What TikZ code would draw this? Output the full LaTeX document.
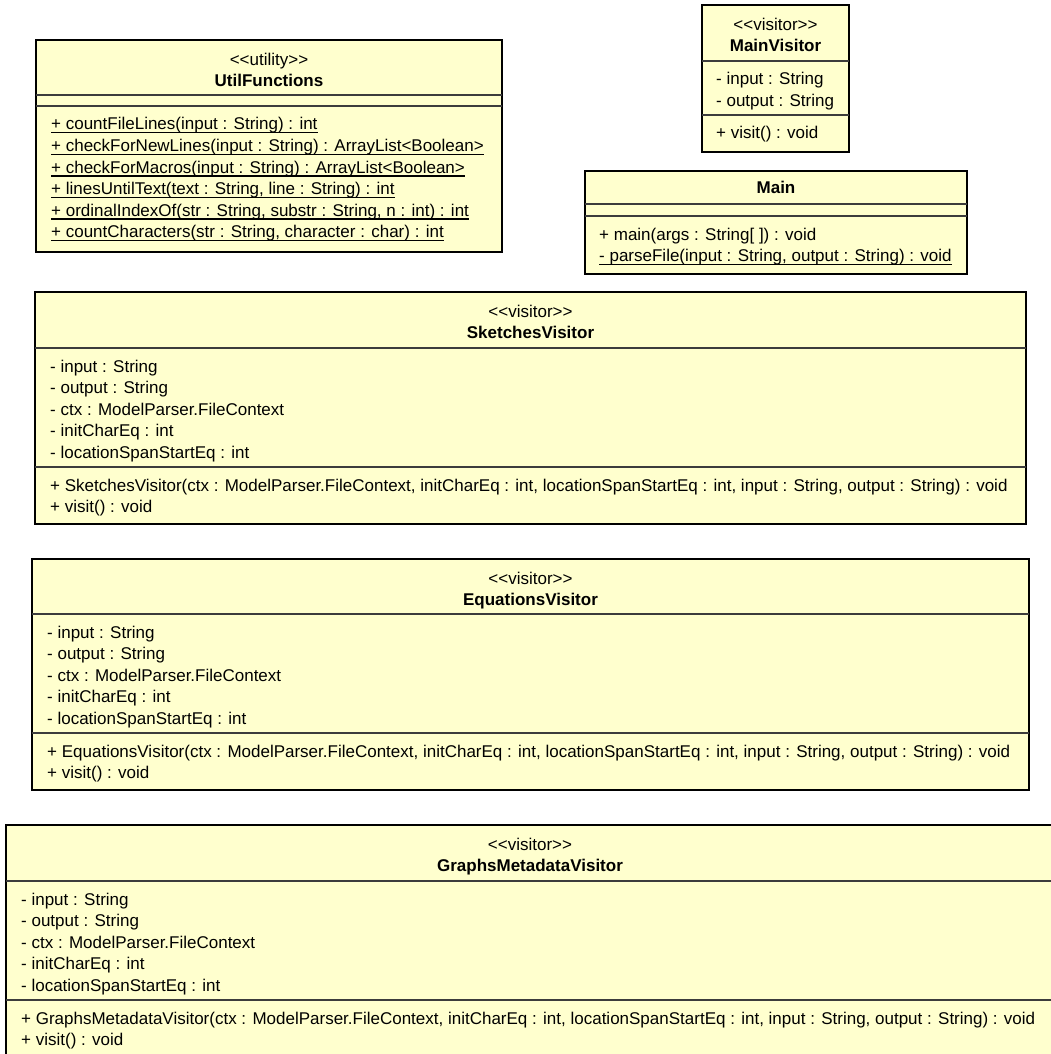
\documentclass[tikz,border=0pt]{standalone}
\usepackage{fontspec}
\setmainfont{Liberation Sans}
\definecolor{classfill}{RGB}{255,255,206}
\definecolor{rulegray}{RGB}{60,60,60}
% underlined (static) member text
\newcommand\staticmember[1]{\setbox0\hbox{#1}\rlap{\copy0}\rule[-3.5pt]{\wd0}{1.1pt}}
% stereotype brackets written as separate characters
\newcommand\stereotype[1]{{<}{<}#1{>}{>}}
\tikzset{
  classbox/.style={rectangle, draw=black, line width=2.2pt, fill=classfill,
    inner sep=0pt, outer sep=0pt, anchor=north west},
  divider/.style={draw=rulegray, line width=1.3pt},
  member/.style={anchor=base west, inner sep=0pt, font=\fontsize{17}{20}\selectfont},
  stereo/.style={anchor=base, inner sep=0pt, font=\fontsize{17}{20}\selectfont},
  classname/.style={anchor=base, inner sep=0pt, font=\fontsize{17}{20}\selectfont\bfseries},
}
\begin{document}
\begin{tikzpicture}[x=1pt, y=-1pt]
\path[use as bounding box] (0,0) rectangle (1051,1054);
\clip (0,0) rectangle (1051,1054);
\fill[white] (0,0) rectangle (1051,1054);

% ---- UtilFunctions ----
\node[classbox, minimum width=466pt, minimum height=212pt] (util) at (36,40) {};
\draw[divider] ([yshift=-55pt]util.north west) -- ([yshift=-55pt]util.north east);
\draw[divider] ([yshift=-66pt]util.north west) -- ([yshift=-66pt]util.north east);
\node[stereo] (util-st) at (269,65.5) {\stereotype{utility}};
\node[classname] (util-nm) at (269,86.5) {UtilFunctions};
\node[member] (util-m1) at (51,130) {\staticmember{+ countFileLines(input : String) : int}};
\node[member] (util-m2) at (51,151.5) {\staticmember{+ checkForNewLines(input : String) : ArrayList<Boolean>}};
\node[member] (util-m3) at (51,173) {\staticmember{+ checkForMacros(input : String) : ArrayList<Boolean>}};
\node[member] (util-m4) at (51,194.5) {\staticmember{+ linesUntilText(text : String, line : String) : int}};
\node[member] (util-m5) at (51,216) {\staticmember{+ ordinalIndexOf(str : String, substr : String, n : int) : int}};
\node[member] (util-m6) at (51,237.5) {\staticmember{+ countCharacters(str : String, character : char) : int}};

% ---- MainVisitor ----
\node[classbox, minimum width=147pt, minimum height=147pt] (mainv) at (702,5) {};
\draw[divider] ([yshift=-56pt]mainv.north west) -- ([yshift=-56pt]mainv.north east);
\draw[divider] ([yshift=-110pt]mainv.north west) -- ([yshift=-110pt]mainv.north east);
\node[stereo] (mainv-st) at (775.5,30.5) {\stereotype{visitor}};
\node[classname] (mainv-nm) at (775.5,51.5) {MainVisitor};
\node[member] (mainv-a1) at (716,85) {- input : String};
\node[member] (mainv-a2) at (716,106.5) {- output : String};
\node[member] (mainv-m1) at (716,139) {+ visit() : void};

% ---- Main ----
\node[classbox, minimum width=382pt, minimum height=103pt] (main) at (585,171) {};
\draw[divider] ([yshift=-33pt]main.north west) -- ([yshift=-33pt]main.north east);
\draw[divider] ([yshift=-45pt]main.north west) -- ([yshift=-45pt]main.north east);
\node[classname] (main-nm) at (776,193.5) {Main};
\node[member] (main-m1) at (599,240) {+ main(args : String[ ]) : void};
\node[member] (main-m2) at (599,261.5) {\staticmember{- parseFile(input : String, output : String) : void}};

% ---- SketchesVisitor ----
\node[classbox, minimum width=991pt, minimum height=232pt] (sketch) at (35,292) {};
\draw[divider] ([yshift=-56pt]sketch.north west) -- ([yshift=-56pt]sketch.north east);
\draw[divider] ([yshift=-175pt]sketch.north west) -- ([yshift=-175pt]sketch.north east);
\node[stereo] (sketch-st) at (530.5,317.5) {\stereotype{visitor}};
\node[classname] (sketch-nm) at (530.5,338.5) {SketchesVisitor};
\node[member] (sketch-a1) at (50,372) {- input : String};
\node[member] (sketch-a2) at (50,393.5) {- output : String};
\node[member] (sketch-a3) at (50,415) {- ctx : ModelParser.FileContext};
\node[member] (sketch-a4) at (50,436.5) {- initCharEq : int};
\node[member] (sketch-a5) at (50,458) {- locationSpanStartEq : int};
\node[member] (sketch-m1) at (50,491) {+ SketchesVisitor(ctx : ModelParser.FileContext, initCharEq : int, locationSpanStartEq : int, input : String, output : String) : void};
\node[member] (sketch-m2) at (50,512.5) {+ visit() : void};

% ---- EquationsVisitor ----
\node[classbox, minimum width=997pt, minimum height=231pt] (equ) at (32,559) {};
\draw[divider] ([yshift=-55pt]equ.north west) -- ([yshift=-55pt]equ.north east);
\draw[divider] ([yshift=-174pt]equ.north west) -- ([yshift=-174pt]equ.north east);
\node[stereo] (equ-st) at (530.5,584.5) {\stereotype{visitor}};
\node[classname] (equ-nm) at (530.5,605.5) {EquationsVisitor};
\node[member] (equ-a1) at (47,638) {- input : String};
\node[member] (equ-a2) at (47,659.5) {- output : String};
\node[member] (equ-a3) at (47,681) {- ctx : ModelParser.FileContext};
\node[member] (equ-a4) at (47,702.5) {- initCharEq : int};
\node[member] (equ-a5) at (47,724) {- locationSpanStartEq : int};
\node[member] (equ-m1) at (47,757) {+ EquationsVisitor(ctx : ModelParser.FileContext, initCharEq : int, locationSpanStartEq : int, input : String, output : String) : void};
\node[member] (equ-m2) at (47,778.5) {+ visit() : void};

% ---- GraphsMetadataVisitor ----
\node[classbox, minimum width=1050pt, minimum height=232pt] (graphs) at (6,825) {};
\draw[divider] ([yshift=-56pt]graphs.north west) -- ([yshift=-56pt]graphs.north east);
\draw[divider] ([yshift=-175pt]graphs.north west) -- ([yshift=-175pt]graphs.north east);
\node[stereo] (graphs-st) at (530,850.5) {\stereotype{visitor}};
\node[classname] (graphs-nm) at (530,871.5) {GraphsMetadataVisitor};
\node[member] (graphs-a1) at (21,905) {- input : String};
\node[member] (graphs-a2) at (21,926.5) {- output : String};
\node[member] (graphs-a3) at (21,948) {- ctx : ModelParser.FileContext};
\node[member] (graphs-a4) at (21,969.5) {- initCharEq : int};
\node[member] (graphs-a5) at (21,991) {- locationSpanStartEq : int};
\node[member] (graphs-m1) at (21,1024) {+ GraphsMetadataVisitor(ctx : ModelParser.FileContext, initCharEq : int, locationSpanStartEq : int, input : String, output : String) : void};
\node[member] (graphs-m2) at (21,1045.5) {+ visit() : void};
\end{tikzpicture}
\end{document}
